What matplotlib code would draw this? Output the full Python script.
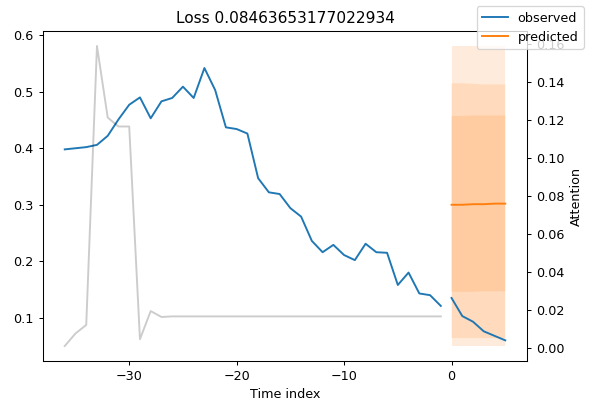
import numpy as np
import matplotlib
matplotlib.use("Agg")
import matplotlib.pyplot as plt

# encoder (history) and decoder (horizon) time steps
enc_time = np.arange(-36, 0)
dec_time = np.arange(0, 6)

# observed target over the encoder window
obs_enc = [0.398, 0.400, 0.402, 0.406, 0.422, 0.451, 0.477, 0.490, 0.453, 0.483,
           0.489, 0.509, 0.489, 0.542, 0.503, 0.437, 0.434, 0.426, 0.347, 0.322,
           0.319, 0.294, 0.279, 0.236, 0.216, 0.229, 0.211, 0.202, 0.231, 0.216,
           0.215, 0.158, 0.180, 0.143, 0.140, 0.121]
# observed target over the prediction horizon
obs_dec = [0.135, 0.103, 0.093, 0.076, 0.068, 0.060]

# predicted quantiles (0.02, 0.1, 0.25, 0.5, 0.75, 0.9, 0.98)
q02 = [0.050, 0.050, 0.050, 0.050, 0.050, 0.050]
q10 = [0.064, 0.064, 0.064, 0.064, 0.064, 0.064]
q25 = [0.146, 0.146, 0.146, 0.147, 0.147, 0.147]
q50 = [0.300, 0.300, 0.301, 0.301, 0.302, 0.302]
q75 = [0.457, 0.457, 0.458, 0.458, 0.458, 0.458]
q90 = [0.515, 0.515, 0.514, 0.513, 0.513, 0.513]
q98 = [0.581, 0.581, 0.581, 0.581, 0.581, 0.581]

# attention weights over the encoder window
attention = [0.0010, 0.0076, 0.0121, 0.1590, 0.1213, 0.1166, 0.1166, 0.0046, 0.0194, 0.0163] + [0.0166] * 26

loss = 0.08463653177022934

dpi = 92
fig, ax = plt.subplots(figsize=(590 / dpi, 405 / dpi), dpi=dpi)
fig.subplots_adjust(left=0.0724, right=0.8937, top=0.9235, bottom=0.1086)

ax.plot(enc_time, obs_enc, label="observed", c="C0")
ax.plot(dec_time, obs_dec, c="C0")
ax.plot(dec_time, q50, label="predicted", c="C1")

quantiles = [q02, q10, q25, q50, q75, q90, q98]
for i in range(len(quantiles) // 2):
    ax.fill_between(dec_time, quantiles[i], quantiles[-i - 1], alpha=0.15, fc="C1")

ax.set_title(f"Loss {loss}")
ax.set_xlabel("Time index")

ax2 = ax.twinx()
ax2.set_ylabel("Attention")
ax2.plot(enc_time, attention, alpha=0.2, color="k")

fig.legend(loc="upper right")
fig.savefig("out.png", dpi=dpi)
